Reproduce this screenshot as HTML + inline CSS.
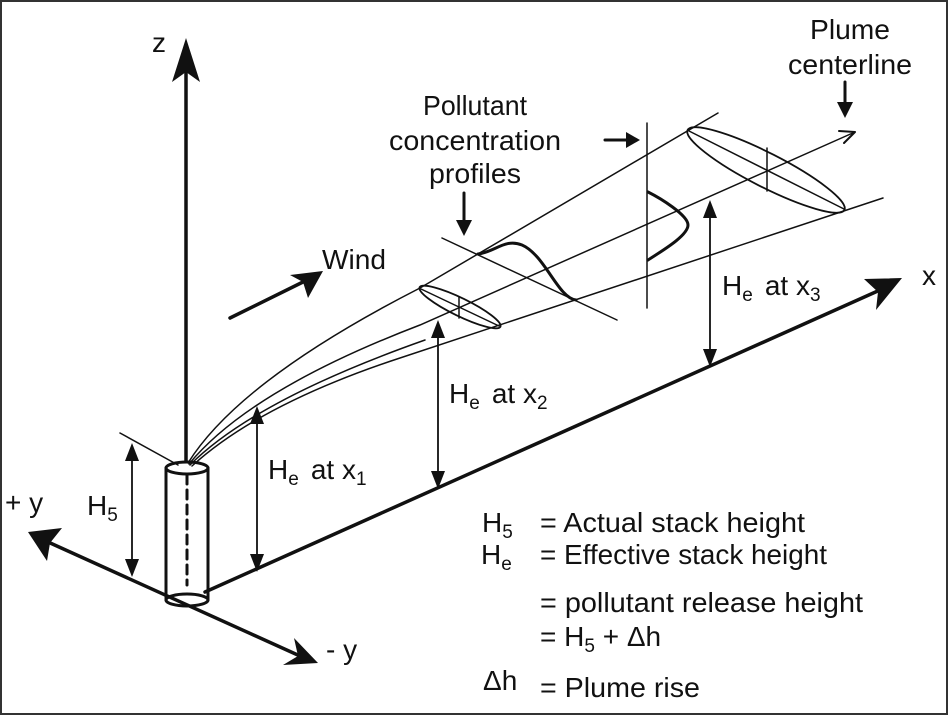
<!DOCTYPE html>
<html><head><meta charset="utf-8"><style>
html,body{margin:0;padding:0;background:#fff}
svg{display:block}
text{font-family:"Liberation Sans Narrow","Liberation Sans",sans-serif;fill:#111}
</style></head><body>
<svg width="948" height="715" viewBox="0 0 948 715" xmlns="http://www.w3.org/2000/svg">
<rect x="1" y="1" width="946" height="713" fill="#fff" stroke="#333" stroke-width="2"/>
<g stroke="#111" fill="none" stroke-linecap="round">
<line x1="186" y1="465" x2="186" y2="60" stroke-width="3.5"/>
<path d="M186,38 L200,82 L186,72 L172,82z" fill="#111" stroke="none"/>
<line x1="205" y1="592" x2="880" y2="290" stroke-width="3.5"/>
<path d="M902,278 L876,310 L878,292 L864,279z" fill="#111" stroke="none"/>
<line x1="48" y1="542" x2="300" y2="656" stroke-width="3.5"/>
<path d="M28,532 L47,561 L50,543 L62,528z" fill="#111" stroke="none"/>
<path d="M318,663 L283,665 L298,656 L294,638z" fill="#111" stroke="none"/>
<line x1="166" y1="468" x2="166" y2="600" stroke-width="3"/>
<line x1="208" y1="468" x2="208" y2="600" stroke-width="3"/>
<ellipse cx="187" cy="468" rx="21" ry="6" stroke-width="3" fill="#fff"/>
<ellipse cx="187" cy="600" rx="21" ry="6" stroke-width="3"/>
<line x1="187" y1="475" x2="187" y2="585" stroke-width="3" stroke-dasharray="9,6"/>
<line x1="120" y1="433" x2="178" y2="465" stroke-width="1.5"/>
<path d="M188,463 Q240,380 420,288 L718,113" stroke-width="1.5"/>
<path d="M189,464 Q250,390 420,325 L855,132" stroke-width="1.5"/>
<path d="M190,465 Q255,400 425,340" stroke-width="1.5"/>
<path d="M192,466 Q260,404 400,358 L883,198" stroke-width="1.5"/>
<path d="M855,132 l-16,-1 m16,1 l-11,11" stroke-width="2"/>
<ellipse cx="460" cy="307" rx="45" ry="9" transform="rotate(26 460 307)" stroke-width="1.8"/>
<line x1="421" y1="289" x2="499" y2="326" stroke-width="1.5"/>
<line x1="459" y1="297" x2="459" y2="318" stroke-width="1.5"/>
<ellipse cx="766" cy="170" rx="88" ry="17" transform="rotate(27 766 170)" stroke-width="1.8"/>
<line x1="689" y1="131" x2="844" y2="209" stroke-width="1.5"/>
<line x1="767" y1="148" x2="767" y2="191" stroke-width="1.5"/>
<line x1="442" y1="238" x2="617" y2="320" stroke-width="1.5"/>
<path d="M478,254 C495,252 505,238 522,245 C545,255 558,298 576,300" stroke-width="3"/>
<line x1="647" y1="123" x2="647" y2="308" stroke-width="1.5"/>
<path d="M648,192 C660,198 688,215 688,225 C688,236 660,252 648,260" stroke-width="3"/>
<line x1="132" y1="455" x2="132" y2="565" stroke-width="1.8"/>
<line x1="257" y1="418" x2="257" y2="560" stroke-width="1.8"/>
<line x1="438" y1="332" x2="438" y2="477" stroke-width="1.8"/>
<line x1="710" y1="212" x2="710" y2="355" stroke-width="1.8"/>
<line x1="230" y1="318" x2="305" y2="281" stroke-width="3.5"/>
<path d="M323,271 L308,298 L303,282 L290,275z" fill="#111" stroke="none"/>
<line x1="605" y1="140" x2="628" y2="140" stroke-width="3"/>
<path d="M640,140 L626,132 L626,148z" fill="#111" stroke="none"/>
<line x1="464" y1="193" x2="464" y2="222" stroke-width="3"/>
<path d="M464,236 L456,220 L472,220z" fill="#111" stroke="none"/>
<line x1="845" y1="82" x2="845" y2="104" stroke-width="3"/>
<path d="M845,118 L837,102 L853,102z" fill="#111" stroke="none"/>
</g>
<g fill="#111">
<path d="M132,443 L125,461 L139,461z"/><path d="M132,577 L125,559 L139,559z"/>
<path d="M257,406 L250,424 L264,424z"/><path d="M257,572 L250,554 L264,554z"/>
<path d="M438,320 L431,338 L445,338z"/><path d="M438,489 L431,471 L445,471z"/>
<path d="M710,200 L703,218 L717,218z"/><path d="M710,367 L703,349 L717,349z"/>
</g>
<g font-size="28">
<text x="152" y="52">z</text>
<text x="922" y="285">x</text>
<text x="5" y="512">+ y</text>
<text x="326" y="659">- y</text>
<text x="322" y="269" textLength="64" lengthAdjust="spacingAndGlyphs">Wind</text>
<text x="475" y="115" text-anchor="middle" textLength="104" lengthAdjust="spacingAndGlyphs">Pollutant</text>
<text x="475" y="150" text-anchor="middle" textLength="172" lengthAdjust="spacingAndGlyphs">concentration</text>
<text x="475" y="183" text-anchor="middle" textLength="92" lengthAdjust="spacingAndGlyphs">profiles</text>
<text x="850" y="39" text-anchor="middle" textLength="80" lengthAdjust="spacingAndGlyphs">Plume</text>
<text x="850" y="74" text-anchor="middle" textLength="124" lengthAdjust="spacingAndGlyphs">centerline</text>
<text x="87" y="515">H<tspan font-size="19" dy="6">5</tspan></text>
<text x="268" y="479">H<tspan font-size="19" dy="6">e</tspan><tspan dy="-6" dx="12">at x</tspan><tspan font-size="19" dy="6">1</tspan></text>
<text x="449" y="403">H<tspan font-size="19" dy="6">e</tspan><tspan dy="-6" dx="12">at x</tspan><tspan font-size="19" dy="6">2</tspan></text>
<text x="722" y="295">H<tspan font-size="19" dy="6">e</tspan><tspan dy="-6" dx="12">at x</tspan><tspan font-size="19" dy="6">3</tspan></text>
<text x="482" y="532">H<tspan font-size="19" dy="6">5</tspan></text>
<text x="540" y="532" textLength="265" lengthAdjust="spacingAndGlyphs">= Actual stack height</text>
<text x="481" y="564">H<tspan font-size="19" dy="6">e</tspan></text>
<text x="540" y="564" textLength="287" lengthAdjust="spacingAndGlyphs">= Effective stack height</text>
<text x="540" y="612" textLength="323" lengthAdjust="spacingAndGlyphs">= pollutant release height</text>
<text x="540" y="646">= H<tspan font-size="19" dy="6">5</tspan><tspan dy="-6"> + Δh</tspan></text>
<text x="483" y="690">Δh</text>
<text x="540" y="697" textLength="160" lengthAdjust="spacingAndGlyphs">= Plume rise</text>
</g>
</svg>
</body></html>
